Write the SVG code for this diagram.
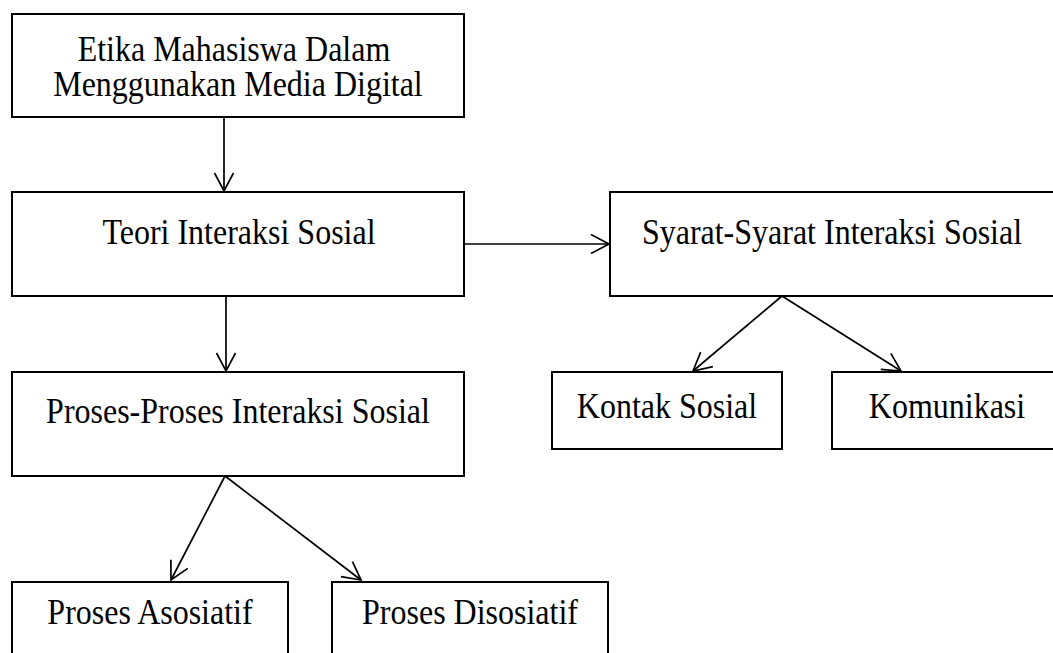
<svg xmlns="http://www.w3.org/2000/svg" width="1053" height="653" viewBox="0 0 1053 653">
  <style>
    .box { fill: #ffffff; stroke: #000000; stroke-width: 2; }
    .lbl { font-family: "Liberation Serif", "Times New Roman", serif; font-size: 32px; fill: #000000; text-anchor: middle; }
    .conn { stroke: #000000; stroke-width: 1.7; fill: none; marker-end: url(#arr); }
  </style>
  <defs>
    <marker id="arr" markerUnits="userSpaceOnUse" markerWidth="24" markerHeight="24" viewBox="-22 -12 24 24" refX="0" refY="0" orient="auto">
      <path d="M -18,-9.5 L 0,0 L -18,9.5" fill="none" stroke="#000000" stroke-width="1.7"/>
    </marker>
  </defs>
  <rect width="1053" height="653" fill="#ffffff"/>

  <g id="connectors">
    <line class="conn" x1="224" y1="117" x2="224" y2="191"/>
    <line class="conn" x1="464" y1="244" x2="609" y2="244"/>
    <line class="conn" x1="226" y1="296" x2="226" y2="371"/>
    <line class="conn" x1="225" y1="476" x2="171" y2="580"/>
    <line class="conn" x1="225" y1="476" x2="361" y2="580"/>
    <line class="conn" x1="782" y1="296" x2="693" y2="371"/>
    <line class="conn" x1="782" y1="296" x2="901" y2="371"/>
  </g>

  <g id="node-etika">
    <rect class="box" x="12" y="14" width="452" height="103"/>
    <text class="lbl" transform="translate(234,61) scale(1,1.15)">Etika Mahasiswa Dalam</text>
    <text class="lbl" transform="translate(238,96) scale(1,1.15)">Menggunakan Media Digital</text>
  </g>

  <g id="node-teori">
    <rect class="box" x="12" y="192" width="452" height="104"/>
    <text class="lbl" transform="translate(239,244) scale(1,1.15)">Teori Interaksi Sosial</text>
  </g>

  <g id="node-syarat">
    <rect class="box" x="610" y="192" width="452" height="104"/>
    <text class="lbl" transform="translate(832,244) scale(1,1.15)">Syarat-Syarat Interaksi Sosial</text>
  </g>

  <g id="node-proses">
    <rect class="box" x="12" y="372" width="452" height="104"/>
    <text class="lbl" transform="translate(238,423) scale(1,1.15)">Proses-Proses Interaksi Sosial</text>
  </g>

  <g id="node-kontak">
    <rect class="box" x="552" y="372" width="230" height="77"/>
    <text class="lbl" transform="translate(667,418) scale(1,1.15)">Kontak Sosial</text>
  </g>

  <g id="node-komunikasi">
    <rect class="box" x="832" y="372" width="230" height="77"/>
    <text class="lbl" transform="translate(947,418) scale(1,1.15)">Komunikasi</text>
  </g>

  <g id="node-asosiatif">
    <rect class="box" x="12" y="582" width="276" height="90"/>
    <text class="lbl" transform="translate(150,624) scale(1,1.15)">Proses Asosiatif</text>
  </g>

  <g id="node-disosiatif">
    <rect class="box" x="332" y="582" width="276" height="90"/>
    <text class="lbl" transform="translate(470,624) scale(1,1.15)">Proses Disosiatif</text>
  </g>
</svg>
